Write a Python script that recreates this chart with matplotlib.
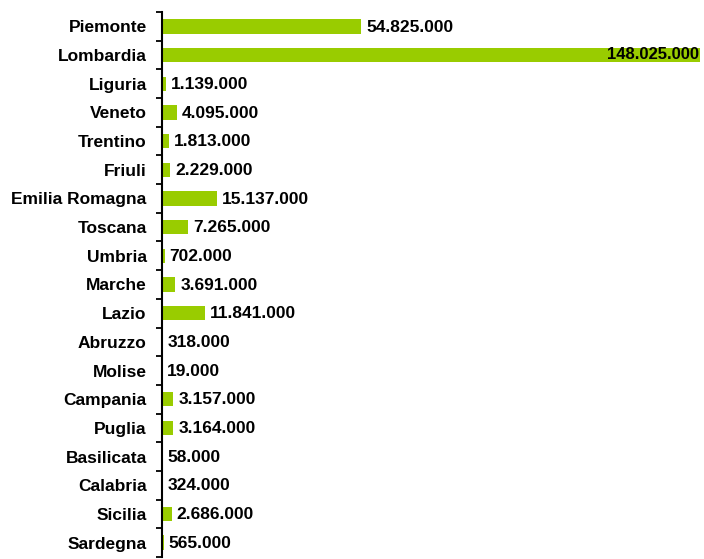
import matplotlib.pyplot as plt
import numpy as np

# Regioni e valori
regions = ['Piemonte', 'Lombardia', 'Liguria', 'Veneto', 'Trentino', 'Friuli',
           'Emilia Romagna', 'Toscana', 'Umbria', 'Marche', 'Lazio', 'Abruzzo',
           'Molise', 'Campania', 'Puglia', 'Basilicata', 'Calabria', 'Sicilia',
           'Sardegna']
values = [54825000, 148025000, 1139000, 4095000, 1813000, 2229000,
          15137000, 7265000, 702000, 3691000, 11841000, 318000,
          19000, 3157000, 3164000, 58000, 324000, 2686000,
          565000]

plt.rcParams['font.family'] = ['Liberation Sans', 'DejaVu Sans']
plt.rcParams['font.weight'] = 'bold'
fs = 12.5

fig = plt.figure(figsize=(7.04, 5.59), dpi=100)
ax = fig.add_axes([162 / 704, 2 / 559, 539 / 704, 545 / 559])

y = np.arange(len(regions))
ax.barh(y, values, height=0.5, color='#99cc00')
ax.set_ylim(len(regions) - 0.5, -0.5)
ax.set_xlim(0, 148.3e6)

fmt = lambda v: '{:,}'.format(v).replace(',', '.')
vmax = max(values)
for yi, v in zip(y, values):
    if v == vmax:
        # l'etichetta della barra piu' lunga sta dentro la barra
        ax.annotate(fmt(v), (v, yi), xytext=(-1, 0.5), textcoords='offset points',
                    ha='right', va='center', fontsize=fs - 0.5, fontweight='bold')
    else:
        ax.annotate(fmt(v), (v, yi), xytext=(3.5, -0.5), textcoords='offset points',
                    ha='left', va='center', fontsize=fs, fontweight='bold')

ax.set_yticks(y)
ax.set_yticklabels(regions, fontsize=fs, fontweight='bold')
ax.tick_params(axis='y', which='major', length=0, pad=11)
ax.set_yticks(np.arange(len(regions) + 1) - 0.5, minor=True)
ax.tick_params(axis='y', which='minor', length=4.5, width=1.3, direction='out')
ax.set_xticks([])
for s in ['top', 'right', 'bottom']:
    ax.spines[s].set_visible(False)
ax.spines['left'].set_linewidth(1.5)

fig.savefig('out.png', dpi=100)
